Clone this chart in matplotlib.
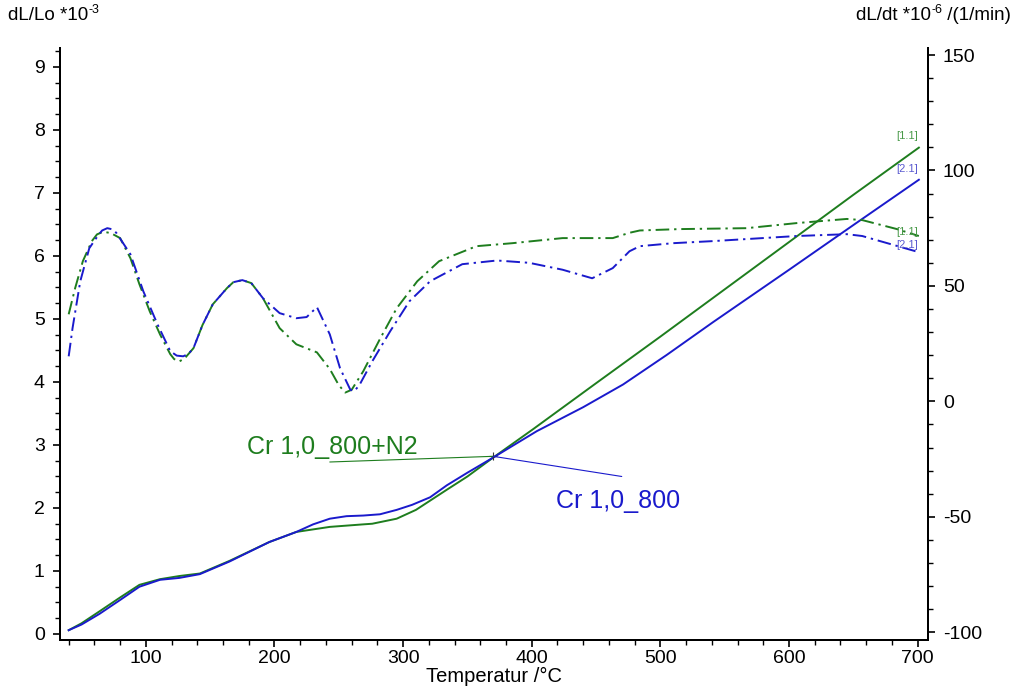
import matplotlib
matplotlib.use('Agg')
import matplotlib.pyplot as plt
from matplotlib.ticker import MultipleLocator


GREEN = '#1e7d1e'
BLUE = '#1a1acc'

# dL/Lo *10^-3, Cr 1,0_800+N2
t_n2 = [40, 50, 64, 80, 95, 111, 126, 142, 165, 196, 217, 243, 269, 276, 295, 310,
        334, 350, 370, 401, 450, 500, 550, 600, 650, 701]
dl_n2 = [0.06, 0.17, 0.36, 0.58, 0.78, 0.87, 0.92, 0.96, 1.16, 1.46, 1.62, 1.70, 1.74, 1.75,
         1.83, 1.97, 2.29, 2.50, 2.80, 3.25, 3.98, 4.72, 5.47, 6.22, 6.97, 7.72]

# dL/Lo *10^-3, Cr 1,0_800
t_800 = [40, 50, 64, 80, 95, 111, 126, 142, 165, 196, 217, 230, 243, 256, 269, 282, 295,
         307, 321, 334, 350, 370, 404, 440, 471, 505, 541, 600, 650, 701]
dl_800 = [0.06, 0.15, 0.32, 0.54, 0.75, 0.86, 0.89, 0.95, 1.15, 1.46, 1.62, 1.74, 1.83,
          1.87, 1.88, 1.90, 1.97, 2.05, 2.17, 2.36, 2.56, 2.80, 3.22, 3.60, 3.96, 4.43,
          4.95, 5.78, 6.49, 7.21]

# dL/dt *10^-6 /(1/min), Cr 1,0_800+N2
t_rate_n2 = [40, 45, 51, 58, 62, 67, 73, 80, 88, 95, 103, 111, 119, 122, 126, 130, 137, 144,
             152, 163, 168, 175, 182, 191, 204, 217, 233, 243, 250, 255, 260, 269, 282, 295,
             311, 328, 357, 385, 424, 450, 463, 476, 484, 515, 567, 606, 645, 657, 684, 701]
rate_n2 = [37.7, 49, 60.7, 69.4, 72.3, 73.5, 72.8, 70.7, 62, 50.7, 39, 29, 20.4, 18.3, 17.3,
           18.5, 23, 33, 42, 49, 51.6, 52.5, 51.2, 44.7, 31.7, 24.7, 21.2, 14, 7, 3.8, 5,
           13, 27, 40.3, 52, 60.7, 67.2, 68.5, 70.7, 70.7, 70.7, 73, 74, 74.6, 75, 77.2, 79,
           78.5, 74.6, 71.6]

# dL/dt *10^-6 /(1/min), Cr 1,0_800
t_rate_800 = [40, 43, 49, 56, 63, 66, 70, 74, 77, 88, 98, 109, 119, 124, 129, 133, 137, 144,
              152, 163, 168, 175, 182, 191, 204, 217, 225, 233, 243, 251, 259, 262, 266, 276,
              290, 305, 321, 346, 373, 398, 424, 447, 463, 476, 484, 510, 541, 606, 645, 657,
              701]
rate_800 = [19.5, 31.7, 52, 66.3, 72, 74, 75, 74.5, 73, 63.7, 47.7, 33.4, 21.7, 19.8, 19.5,
            20.5, 23, 33, 42, 49, 51.6, 52.5, 51.2, 44.7, 38.2, 36, 36.5, 40.8, 29, 14.3, 5,
            4.4, 7, 17.3, 30.4, 43.4, 52, 59.4, 61, 60, 57, 53.3, 57.7, 65, 67.2, 68.5, 69.4,
            71.6, 72.4, 71.6, 64.6]

plt.rcParams['font.family'] = ['Liberation Sans', 'DejaVu Sans']
plt.rcParams['axes.unicode_minus'] = False

fig = plt.figure(figsize=(10.16, 6.87), dpi=100)
ax = fig.add_axes([0.059, 0.068, 0.854, 0.862])
ax2 = ax.twinx()

dashdot = (0, (7, 2.5, 1.2, 2.5))
ax.plot(t_n2, dl_n2, color=GREEN, lw=1.4)
ax.plot(t_800, dl_800, color=BLUE, lw=1.4)
ax2.plot(t_rate_n2, rate_n2, color=GREEN, lw=1.4, linestyle=dashdot)
ax2.plot(t_rate_800, rate_800, color=BLUE, lw=1.4, linestyle=dashdot)

ax.set_xlim(33.2, 707.8)
ax.set_ylim(-0.1, 9.3)
ax2.set_ylim(-103.5, 153)

for a in (ax, ax2):
    a.spines['top'].set_visible(False)
    for s in a.spines.values():
        s.set_linewidth(1.4)
    a.tick_params(which='major', length=5, width=1.2, labelsize=14, direction='out')
    a.tick_params(which='minor', length=3.5, width=1.0, direction='out')

ax.xaxis.set_major_locator(MultipleLocator(100))
ax.xaxis.set_minor_locator(MultipleLocator(20))
ax.yaxis.set_major_locator(MultipleLocator(1))
ax.yaxis.set_minor_locator(MultipleLocator(0.25))
ax2.yaxis.set_major_locator(MultipleLocator(50))
ax2.yaxis.set_minor_locator(MultipleLocator(10))
ax.tick_params(axis='x', pad=2)
ax.tick_params(axis='y', pad=6)
ax2.tick_params(axis='y', pad=6)

ax.set_xlabel('Temperatur /°C', fontsize=14.5, labelpad=0)

# axis titles at the top corners, exponent as small raised text
t1 = fig.text(0.008, 0.978, 'dL/Lo *10', fontsize=13.5, ha='left', va='center')
ax.annotate('-3', xy=(1.0, 0.45), xycoords=t1, fontsize=9, ha='left', va='bottom',
            annotation_clip=False)
t2 = fig.text(0.843, 0.978, 'dL/dt *10', fontsize=13.5, ha='left', va='center')
t3 = ax.annotate('-6', xy=(1.0, 0.45), xycoords=t2, fontsize=9, ha='left', va='bottom',
                 annotation_clip=False)
ax.annotate(' /(1/min)', xy=(1.0, 0.0), xycoords=(t3, t2), fontsize=13.5, ha='left',
            va='bottom', annotation_clip=False)

# curve tags at the right end
ax.text(692, 7.82, '[1.1]', fontsize=8, color='#4a9a4a', ha='center', va='bottom')
ax.text(692, 7.30, '[2.1]', fontsize=8, color='#5a5ad0', ha='center', va='bottom')
ax2.text(692, 71.0, '[1.1]', fontsize=8, color='#4a9a4a', ha='center', va='bottom')
ax2.text(692, 65.5, '[2.1]', fontsize=8, color='#5a5ad0', ha='center', va='bottom')

# legend labels with leader lines to the crossing point
cross = (370, 2.82)
ax.plot(*cross, marker='+', color='#333333', ms=6, mew=0.8)
ax.annotate('', xy=cross, xytext=(243, 2.73),
            arrowprops=dict(arrowstyle='-', color=GREEN, lw=0.8, shrinkA=0, shrinkB=0))
ax.annotate('', xy=cross, xytext=(470, 2.50),
            arrowprops=dict(arrowstyle='-', color=BLUE, lw=0.8, shrinkA=0, shrinkB=0))
ax.text(179, 2.85, 'Cr 1,0_800+N2', color=GREEN, fontsize=18,
        ha='left', va='baseline')
ax.text(419, 2.0, 'Cr 1,0_800', color=BLUE, fontsize=18,
        ha='left', va='baseline')

fig.savefig('out.png', dpi=100)
